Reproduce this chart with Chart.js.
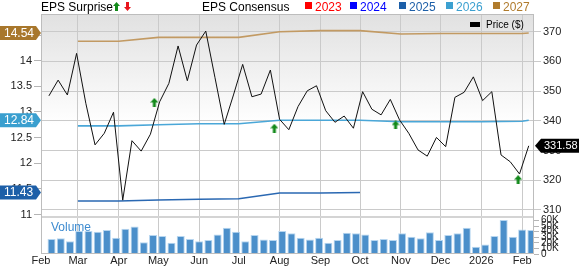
<!DOCTYPE html>
<html>
<head>
<meta charset="utf-8">
<script src="https://cdn.jsdelivr.net/npm/chart.js@4.4.1/dist/chart.umd.min.js"></script>
<style>
  body { margin: 0; background: #fff; font-family: "Liberation Sans", Arial, sans-serif; }
  #wrap { position: relative; width: 579px; height: 266px; overflow: hidden; }
  #wrap canvas { position: absolute; left: 0; top: 0; }
  .t { position: absolute; white-space: nowrap; font-size: 12px; line-height: 14px; top: 0; }
  .sq { position: absolute; top: 2px; width: 7px; height: 7px; }
</style>
</head>
<body>
<div id="wrap">
  <canvas id="epsChart" width="579" height="266"></canvas>
  <div class="t" style="left:41px;color:#000">EPS Surprise</div>
  <svg style="position:absolute;left:113px;top:2px" width="7" height="9"><path d="M3.5 0 L7 4 L5 4 L5 9 L2 9 L2 4 L0 4 Z" fill="#12891a"/></svg>
  <svg style="position:absolute;left:124px;top:2px" width="7" height="9"><path d="M3.5 9 L7 5 L5 5 L5 0 L2 0 L2 5 L0 5 Z" fill="#e8141c"/></svg>
  <div class="t" style="left:202px;color:#000">EPS Consensus</div>
  <div class="sq" style="left:305px;background:#ff0000"></div><div class="t" style="left:315px;color:#ff0000">2023</div>
  <div class="sq" style="left:350px;background:#0000ff"></div><div class="t" style="left:360px;color:#0000ff">2024</div>
  <div class="sq" style="left:399px;background:#1d5fa8"></div><div class="t" style="left:409px;color:#1d5fa8">2025</div>
  <div class="sq" style="left:446px;background:#3ca0d0"></div><div class="t" style="left:456px;color:#3ca0d0">2026</div>
  <div class="sq" style="left:493px;background:#b07b2c"></div><div class="t" style="left:503px;color:#b07b2c">2027</div>
  <div style="position:absolute;left:470px;top:22px;width:10px;height:5px;background:#000"></div>
  <div class="t" style="left:486px;top:19px;font-size:10px;line-height:12px;color:#000">Price ($)</div>
  <div class="t" style="left:51px;top:221px;line-height:12px;color:#3d8bd0">Volume</div>
</div>
<script>
// weekly closing prices
const priceDates = ['2025-02-07','2025-02-14','2025-02-21','2025-02-28','2025-03-07','2025-03-14','2025-03-21','2025-03-28',
  '2025-04-04','2025-04-11','2025-04-18','2025-04-25','2025-05-02','2025-05-09','2025-05-16','2025-05-23','2025-05-30',
  '2025-06-06','2025-06-13','2025-06-20','2025-06-27','2025-07-04','2025-07-11','2025-07-18','2025-07-25',
  '2025-08-01','2025-08-08','2025-08-15','2025-08-22','2025-08-29','2025-09-05','2025-09-12','2025-09-19','2025-09-26',
  '2025-10-03','2025-10-10','2025-10-17','2025-10-24','2025-10-31','2025-11-07','2025-11-14','2025-11-21','2025-11-28',
  '2025-12-05','2025-12-12','2025-12-19','2025-12-26','2026-01-02','2026-01-09','2026-01-16','2026-01-23','2026-01-30',
  '2026-02-06'];
const priceValues = [348.4, 353.7, 348.7, 362.7, 345.9, 331.9, 335.8, 342.9, 313.3, 333.3, 329.8, 335.5, 346.4,
  352.6, 365.2, 353.5, 365.5, 370.2, 354.5, 338.8, 348.7, 359.0, 348.1, 349.0, 357.1, 340.5, 337.0, 344.8,
  350.1, 351.8, 343.4, 339.5, 341.6, 337.5, 349.8, 343.9, 342.0, 347.2, 340.3, 335.8, 330.2, 328.1, 334.4,
  331.3, 347.9, 349.6, 354.8, 346.8, 349.8, 328.5, 326.2, 322.1, 331.58];
// weekly volume, thousands
const volumeK = [27, 28, 23, 41, 41, 40, 43, 29, 45, 49, 21, 34, 32, 20, 32, 27, 23, 25, 35, 47, 40, 23, 34,
  26, 25, 41, 37, 29, 26, 29, 20, 25, 38, 37, 35, 25, 27, 25, 37, 31, 28, 39, 25, 34, 37, 47, 13, 17, 32,
  61, 31, 44, 43];

// consensus EPS by fiscal year
const consDates = ['2025-03-01','2025-04-01','2025-05-01','2025-06-01','2025-07-01','2025-08-01','2025-09-01',
  '2025-10-01','2025-11-01','2025-12-01','2026-01-01','2026-02-01','2026-02-06'];
const eps2025 = [11.265, 11.265, 11.285, 11.30, 11.31, 11.42, 11.42, 11.43];
const eps2026 = [12.73, 12.73, 12.75, 12.77, 12.77, 12.84, 12.84, 12.84, 12.81, 12.81, 12.81, 12.82, 12.84];
const eps2027 = [14.38, 14.38, 14.455, 14.455, 14.455, 14.565, 14.585, 14.585, 14.52, 14.53, 14.53, 14.53, 14.54];

// EPS surprise markers (all beats)
const surpriseDates = ['2025-04-28','2025-07-28','2025-10-28','2026-01-29'];
const surpriseAt = [346.2, 337.5, 338.6, 320.2];

const monthStarts = ['2025-02-01','2025-03-01','2025-04-01','2025-05-01','2025-06-01','2025-07-01','2025-08-01',
  '2025-09-01','2025-10-01','2025-11-01','2025-12-01','2026-01-01','2026-02-01'];
const monthLabels = ['Feb','Mar','Apr','May','Jun','Jul','Aug','Sep','Oct','Nov','Dec','2026','Feb'];
const priceTicks = [310, 320, 330, 340, 350, 360, 370];
const epsTicks = [11, 11.5, 12, 12.5, 13, 13.5, 14, 14.5];
const volTicks = [0, 10, 20, 30, 40, 50, 60];

function dayNum(s) {
  return (Date.parse(s + 'T00:00:00Z') - Date.UTC(2025, 0, 1)) / 864e5;
}
function pts(dates, vals, shift) {
  return vals.map((v, i) => ({ x: dayNum(dates[i]) + (shift || 0), y: v }));
}

function upArrow() {
  const c = document.createElement('canvas');
  c.width = 8; c.height = 9;
  const g = c.getContext('2d');
  g.fillStyle = '#12891a';
  g.beginPath();
  g.moveTo(4, 0); g.lineTo(8, 4.5); g.lineTo(5.5, 4.5); g.lineTo(5.5, 9);
  g.lineTo(2.5, 9); g.lineTo(2.5, 4.5); g.lineTo(0, 4.5); g.closePath();
  g.fill();
  return c;
}

function badge(ctx, bodyL, bodyR, tipX, y, color, text, tx, size) {
  const h = 7;
  ctx.fillStyle = color;
  ctx.beginPath();
  if (tipX > bodyR) {
    ctx.moveTo(bodyL, y - h); ctx.lineTo(bodyR, y - h); ctx.lineTo(tipX, y);
    ctx.lineTo(bodyR, y + h); ctx.lineTo(bodyL, y + h);
  } else {
    ctx.moveTo(bodyR, y - h); ctx.lineTo(bodyL, y - h); ctx.lineTo(tipX, y);
    ctx.lineTo(bodyL, y + h); ctx.lineTo(bodyR, y + h);
  }
  ctx.closePath();
  ctx.fill();
  ctx.fillStyle = '#fff';
  ctx.font = size + 'px "Liberation Sans", Arial, sans-serif';
  ctx.textAlign = 'left';
  ctx.textBaseline = 'middle';
  ctx.fillText(text, tx, y + 0.5);
}

const decor = {
  id: 'decor',
  beforeDraw(chart) {
    const { ctx, chartArea: a, scales } = chart;
    const pb = scales.yP.bottom;
    const g = ctx.createLinearGradient(0, a.top, 0, pb);
    g.addColorStop(0, '#e1e1e1');
    g.addColorStop(0.55, '#ffffff');
    ctx.save();
    ctx.fillStyle = g;
    ctx.fillRect(a.left, a.top, a.right - a.left, pb - a.top);
    ctx.restore();
  },
  beforeDatasetsDraw(chart) {
    const { ctx, chartArea: a, scales } = chart;
    ctx.save();
    ctx.fillStyle = '#d4d4d4';
    ctx.fillRect(a.left, scales.yV.top, a.right - a.left, 2);
    ctx.restore();
  },
  afterDraw(chart) {
    const { ctx, chartArea: a, scales } = chart;
    ctx.save();
    ctx.strokeStyle = '#bdbdbd';
    ctx.lineWidth = 1;
    ctx.strokeRect(a.left + 0.5, a.top + 0.5, a.right - a.left - 1, a.bottom - a.top - 1);
    const yE = scales.yE;
    [[eps2027, '#a8772c'], [eps2026, '#3a9fcf'], [eps2025, '#1d5fa8']].forEach(([arr, col]) => {
      const v = arr[arr.length - 1];
      badge(ctx, 0, 36, 41, yE.getPixelForValue(v), col, v.toFixed(2), 4, 12);
    });
    const last = priceValues[priceValues.length - 1];
    badge(ctx, 541, 580, 535, scales.yP.getPixelForValue(last), '#000', last.toFixed(2), 544, 11);
    ctx.restore();
  }
};

Chart.defaults.font.family = '"Liberation Sans", Arial, sans-serif';

new Chart(document.getElementById('epsChart').getContext('2d'), {
  type: 'line',
  data: {
    datasets: [
      { type: 'scatter', data: pts(surpriseDates, surpriseAt), yAxisID: 'yP', pointStyle: upArrow(), showLine: false, order: 0 },
      { data: pts(priceDates, priceValues), yAxisID: 'yP', borderColor: '#111', borderWidth: 1, pointRadius: 0, tension: 0, order: 1 },
      { data: pts(consDates, eps2027), yAxisID: 'yE', borderColor: '#c29a63', borderWidth: 1.6, pointRadius: 0, order: 2 },
      { data: pts(consDates, eps2026), yAxisID: 'yE', borderColor: '#4aa7d8', borderWidth: 1.6, pointRadius: 0, order: 2 },
      { data: pts(consDates, eps2025), yAxisID: 'yE', borderColor: '#2a68b2', borderWidth: 1.6, pointRadius: 0, order: 2 },
      { type: 'bar', data: pts(priceDates, volumeK, 2), yAxisID: 'yV', backgroundColor: '#4b8fca', borderColor: '#b7d6f0',
        borderWidth: { top: 1, left: 1, right: 1, bottom: 0 }, barPercentage: 0.87, categoryPercentage: 1, order: 3 }
    ]
  },
  options: {
    responsive: false,
    animation: false,
    devicePixelRatio: 1,
    layout: { padding: { top: 14, left: 0, right: 0, bottom: 0 } },
    plugins: { legend: { display: false }, tooltip: { enabled: false } },
    scales: {
      x: {
        type: 'linear', offset: false,
        min: dayNum('2025-02-01'), max: dayNum('2026-02-10'),
        afterBuildTicks: s => { s.ticks = monthStarts.map(d => ({ value: dayNum(d) })); },
        afterFit: s => { s.height = 12; },
        ticks: { callback: (v, i) => monthLabels[i], font: { size: 11 }, color: '#222', padding: 0, maxRotation: 0, autoSkip: false },
        grid: { color: '#cacaca', drawTicks: false, offset: false },
        border: { display: false }
      },
      yE: {
        position: 'left', min: 10.232, max: 14.91,
        afterBuildTicks: s => { s.ticks = epsTicks.map(v => ({ value: v })); },
        afterFit: s => { s.width = 41; },
        ticks: { callback: v => String(v), font: { size: 11 }, color: '#222', padding: 2, autoSkip: false },
        grid: { drawOnChartArea: false, drawTicks: true, tickLength: 7, color: '#b5b5b5' },
        border: { display: false }
      },
      yP: {
        position: 'right', stack: 'right', stackWeight: 202,
        min: 307.95, max: 375.96,
        afterBuildTicks: s => { s.ticks = priceTicks.map(v => ({ value: v })); },
        afterFit: s => { s.width = 45; },
        ticks: { font: { size: 11 }, color: '#222', padding: 2, autoSkip: false },
        grid: { color: '#cacaca', tickLength: 7 },
        border: { display: false }
      },
      yV: {
        position: 'right', stack: 'right', stackWeight: 38,
        min: 0, max: 68,
        afterBuildTicks: s => { s.ticks = volTicks.map(v => ({ value: v })); },
        afterFit: s => { s.width = 45; },
        ticks: { callback: v => v ? v + 'K' : '0', font: { size: 10 }, color: '#222', padding: 2, autoSkip: false },
        grid: { drawOnChartArea: false, tickLength: 5, color: '#b5b5b5' },
        border: { display: false }
      }
    }
  },
  plugins: [decor]
});
</script>
</body>
</html>
